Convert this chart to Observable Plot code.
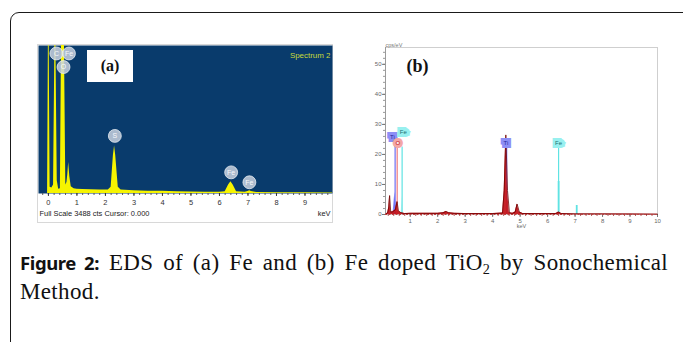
<!DOCTYPE html>
<html>
<head>
<meta charset="utf-8">
<script src="https://cdn.jsdelivr.net/npm/d3@7"></script>
<script src="https://cdn.jsdelivr.net/npm/@observablehq/plot@0.6"></script>
<style>
  html, body { margin: 0; padding: 0; background: #fff; }
  body { width: 683px; height: 342px; overflow: hidden; position: relative; }
  #box { position: absolute; left: 10px; top: 12px; width: 700px; height: 400px;
         border: 1.6px solid #1a1a1a; border-radius: 9px; box-sizing: border-box; }
  #pa { position: absolute; left: 37px; top: 44px; }
  #pb { position: absolute; left: 365px; top: 30px; }
  #tagA { position: absolute; left: 87px; top: 50px; width: 46px; height: 32px; background: #fff;
          font: bold 16px "Liberation Serif", serif; color: #111; text-align: center; line-height: 32px; }
  #cap { position: absolute; left: 20px; top: 248px; width: 648px;
         font: 23px/29px "Liberation Serif", serif; color: #111; letter-spacing: 0.35px; }
  #cap .l1 { text-align: justify; text-align-last: justify; }
  #cap b { font-family: "Noto Sans", sans-serif; font-weight: 700; font-size: 18.5px; letter-spacing: -0.4px; }
  #cap sub { font-size: 0.62em; line-height: 0; vertical-align: -0.3em; }
</style>
</head>
<body>
<div id="box"></div>
<div id="pa"></div>
<div id="tagA">(a)</div>
<div id="pb"></div>
<div id="cap">
  <div class="l1"><b>Figure 2:</b> EDS of (a) Fe and (b) Fe doped TiO<sub>2</sub> by Sonochemical</div>
  <div>Method.</div>
</div>
<script>
// ---------- Panel (a): Fe spectrum (counts, full scale 3488) ----------
const keVA = [-0.35, -0.03, 0.0, 0.025, 0.06, 0.12, 0.18, 0.23, 0.26, 0.31, 0.36, 0.42, 0.46, 0.5, 0.56, 0.61, 0.65, 0.68, 0.71, 0.75, 0.8, 0.9,
              1.0, 1.2, 1.5, 1.8, 2.1, 2.2, 2.28, 2.32, 2.36, 2.45, 2.55, 3.0, 3.5, 4.0, 4.5, 5.0, 5.5, 6.0, 6.2, 6.32, 6.40, 6.48, 6.6,
              6.9, 7.0, 7.06, 7.12, 7.3, 8.0, 9.0, 10.0];
const ctsA = [0, 0, 3700, 3700, 150, 130, 200, 3700, 3700, 300, 100, 110, 3700, 3700, 3700, 200, 260, 450, 730, 400, 160, 110,
              100, 95, 90, 85, 80, 150, 900, 1120, 900, 150, 80, 65, 55, 50, 40, 35, 30, 30, 40, 200, 275, 200, 40,
              30, 45, 65, 45, 25, 20, 15, 12];
const ticksA = [0, 1, 2, 3, 4, 5, 6, 7, 8, 9];
const lblA = ["C", "Fe", "O", "S", "Fe", "Fe"];
const lblAkeV = [0.28, 0.72, 0.53, 2.33, 6.41, 7.05];
const lblActs = [3300, 3300, 2980, 1357, 498, 264];

const specA = keVA.map((k, i) => ({keV: k, cts: ctsA[i]}));
const labelsA = lblA.map((e, i) => ({el: e, keV: lblAkeV[i], cts: lblActs[i]}));

const plotA = Plot.plot({
  width: 296, height: 178,
  marginTop: 0, marginLeft: 0, marginRight: 0, marginBottom: 29,
  x: {domain: [-0.348, 9.965]},
  y: {domain: [0, 3488], axis: null},
  style: {background: "#fff", color: "#333", fontFamily: "Liberation Sans, Arial, sans-serif", overflow: "visible"},
  marks: [
    Plot.frame({fill: "#093b6c"}),
    Plot.areaY(specA, {x: "keV", y: "cts", fill: "#f6f400", clip: true}),
    Plot.axisX({ticks: 50, tickSize: 2, tickFormat: () => "", label: null, stroke: "#555"}),
    Plot.axisX({ticks: ticksA, tickSize: 3, tickPadding: 3, fontSize: 7.5, label: null, tickFormat: d3.format("d")}),
    Plot.dot(labelsA, {x: "keV", y: "cts", r: 6.5, fill: "#c9d2df", fillOpacity: 0.85, stroke: "#e8edf3", strokeWidth: 0.8}),
    Plot.text(labelsA, {x: "keV", y: "cts", text: "el", fill: "#f7f8fb", fontSize: 7}),
    Plot.text(["Spectrum 2"], {frameAnchor: "top-right", dx: -2, dy: 7, fill: "#c8da3a", fontSize: 8}),
    Plot.text(["Full Scale 3488 cts Cursor: 0.000"], {frameAnchor: "bottom-left", dx: 1, dy: 23, textAnchor: "start", fill: "#222", fontSize: 7.5}),
    Plot.text(["keV"], {frameAnchor: "bottom-right", dx: -2, dy: 23, textAnchor: "end", fill: "#222", fontSize: 7.5})
  ]
});
plotA.style.border = "1px solid #d8d8d8";
plotA.style.boxSizing = "border-box";
document.getElementById("pa").appendChild(plotA);

// ---------- Panel (b): Fe doped TiO2 spectrum (cps/eV) ----------
const keVB = [0.10, 0.18, 0.22, 0.25, 0.29, 0.36, 0.46, 0.52, 0.57, 0.66, 0.80, 1.0, 1.5, 2.0, 2.2, 2.3, 2.4, 2.6, 3.0, 3.5, 4.0,
              4.36, 4.42, 4.48, 4.54, 4.61, 4.72, 4.82, 4.89, 4.97, 5.1, 5.5, 6.0, 6.3, 6.4, 6.5, 7.0, 8.0, 9.0, 10.0];
const cpsB = [0, 0.6, 2.5, 6.3, 0.8, 0.9, 1.6, 4.3, 1.2, 0.6, 0.3, 0.4, 0.4, 0.4, 0.6, 1.0, 0.6, 0.4, 0.3, 0.3, 0.3,
              0.5, 8, 26.5, 8, 0.6, 0.4, 0.8, 3.5, 0.8, 0.3, 0.3, 0.3, 0.3, 0.8, 0.3, 0.2, 0.2, 0.15, 0.1];
const keVTiL = [0.37, 0.44, 0.51];
const cpsTiL = [0, 7.4, 0];
const keVFeL = [0.67, 0.70, 0.73];
const cpsFeL = [0, 6.0, 0];
const ticksBx = [1, 2, 3, 4, 5, 6, 7, 8, 9, 10];
const ticksBy = [0, 10, 20, 30, 40, 50];
const mkEl = ["Ti", "O", "Fe", "Ti", "Fe"];
const mkKeV = [0.45, 0.525, 0.705, 4.51, 6.40];
const mkTop = [24, 22.5, 22.5, 22.5, 22.5];
const lblBkeV = [0.35, 0.55, 0.75, 4.48, 6.40];
const lblBy = [25.8, 23.8, 27.6, 23.8, 23.8];
const feKeV = [6.40, 7.06];
const feTop = [11, 3];

const specB = keVB.map((k, i) => ({keV: k, v: cpsB[i]}));
const tiL = keVTiL.map((k, i) => ({keV: k, v: cpsTiL[i]}));
const feL = keVFeL.map((k, i) => ({keV: k, v: cpsFeL[i]}));
const markers = mkEl.map((e, i) => ({el: e, keV: mkKeV[i], top: mkTop[i], lx: lblBkeV[i], ly: lblBy[i]}));
const feLines = feKeV.map((k, i) => ({keV: k, top: feTop[i]}));
const lineCol = {Ti: "#6d6ef2", O: "#f07a7a", Fe: "#5fe3e3"};
const boxCol = {Ti: "#8d8ff6", O: "#f4a6a6", Fe: "#98f0ef"};
const txtCol = {Ti: "#26269a", O: "#c0262a", Fe: "#1f6f70"};
const xDomB = [0.1, 10];

const plotB = Plot.plot({
  width: 300, height: 200,
  marginTop: 17, marginLeft: 20, marginRight: 8, marginBottom: 16,
  x: {domain: xDomB},
  y: {domain: [0, 55.6]},
  style: {background: "transparent", color: "#777", fontFamily: "Liberation Sans, Arial, sans-serif", overflow: "visible"},
  marks: [
    Plot.frame({stroke: "#cfcfcf", strokeWidth: 1}),
    Plot.ruleX([xDomB[0]], {stroke: "#9a9a9a"}),
    Plot.axisY({ticks: 28, tickSize: 2, tickFormat: () => "", label: null, stroke: "#999"}),
    Plot.axisY({ticks: ticksBy, tickSize: 3, tickPadding: 1, fontSize: 6, label: null, fill: "#666"}),
    Plot.axisX({ticks: 50, tickSize: 2, tickFormat: () => "", label: null, stroke: "#b06060"}),
    Plot.axisX({ticks: ticksBx, tickSize: 3, tickPadding: 1, fontSize: 6, label: null, fill: "#666"}),
    Plot.text(["keV"], {frameAnchor: "bottom", dy: 13, fill: "#666", fontSize: 5.5}),
    Plot.text(["cps/eV"], {frameAnchor: "top-left", dx: 0, dy: -4, textAnchor: "start", fill: "#777", fontSize: 5.5}),
    Plot.text(["(b)"], {frameAnchor: "top-left", dx: 21, dy: 12, fill: "#111", fontSize: 18, fontWeight: "bold", fontFamily: "Liberation Serif, serif"}),
    Plot.ruleX(markers, {x: "keV", y1: 0, y2: "top", stroke: d => lineCol[d.el], strokeWidth: 1.2}),
    Plot.ruleX(feLines, {x: "keV", y1: 0, y2: "top", stroke: "#5fe3e3", strokeWidth: 1.8}),
    Plot.areaY(tiL, {x: "keV", y: "v", fill: "#5a5cf0", fillOpacity: 0.75}),
    Plot.areaY(feL, {x: "keV", y: "v", fill: "#7fe8e8", fillOpacity: 0.6}),
    Plot.areaY(specB, {x: "keV", y: "v", fill: "#c4161c", fillOpacity: 0.95}),
    Plot.lineY(specB, {x: "keV", y: "v", stroke: "#6e0000", strokeWidth: 0.8}),
    Plot.ruleY([0], {stroke: "#c04040", strokeDasharray: "2,1.5"}),
    Plot.text(markers, {x: "lx", y: "ly", text: "el", fill: d => txtCol[d.el], stroke: d => boxCol[d.el],
                        strokeWidth: 6, strokeLinejoin: "miter", paintOrder: "stroke", fontSize: 6})
  ]
});
document.getElementById("pb").appendChild(plotB);
</script>
</body>
</html>
